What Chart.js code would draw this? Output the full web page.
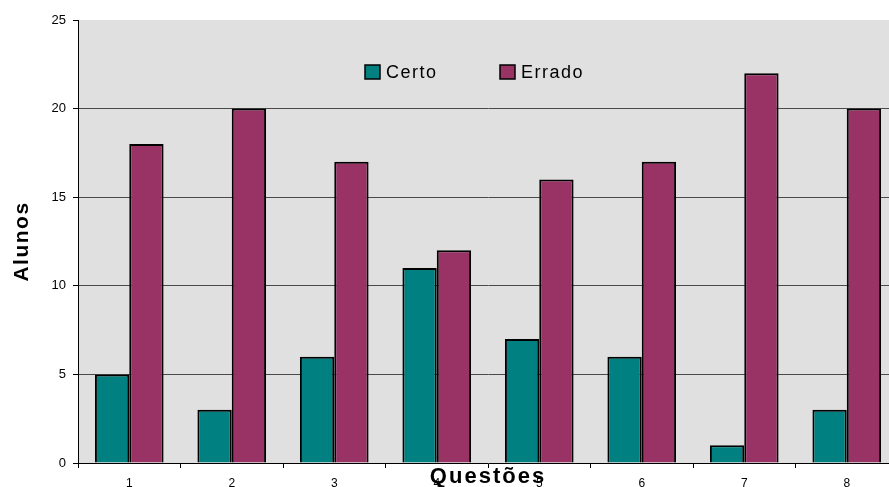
<!DOCTYPE html>
<html>
<head>
<meta charset="utf-8">
<script src="https://cdn.jsdelivr.net/npm/chart.js@4/dist/chart.umd.min.js"></script>
<style>
  html, body { margin: 0; padding: 0; background: #fff; overflow: hidden; width: 889px; height: 487px; }
  canvas { display: block; }
</style>
</head>
<body>
<canvas id="c" width="900" height="487"></canvas>
<script>
const categories = ['1', '2', '3', '4', '5', '6', '7', '8'];
const certo = [5, 3, 6, 11, 7, 6, 1, 3];
const errado = [18, 20, 17, 12, 16, 17, 22, 20];
const seriesNames = ['Certo', 'Errado'];
const yTitle = 'Alunos';
const xTitle = 'Questões';

const FONT = '"Liberation Sans", Arial, sans-serif';

const decor = {
  id: 'decor',
  beforeDraw(chart) {
    const { ctx, chartArea: a } = chart;
    ctx.save();
    ctx.fillStyle = '#E0E0E0';
    ctx.fillRect(a.left, a.top, a.right - a.left, a.bottom - a.top);
    ctx.restore();
  },
  afterDraw(chart) {
    const { ctx, chartArea: a } = chart;
    ctx.save();
    // legend
    const items = [
      { x: 365, label: chart.data.datasets[0].label, color: chart.data.datasets[0].backgroundColor },
      { x: 500, label: chart.data.datasets[1].label, color: chart.data.datasets[1].backgroundColor }
    ];
    ctx.font = '18px ' + FONT;
    ctx.letterSpacing = '1.5px';
    ctx.textBaseline = 'middle';
    ctx.textAlign = 'left';
    items.forEach(it => {
      ctx.fillStyle = it.color;
      ctx.fillRect(it.x, 65, 15, 14);
      ctx.strokeStyle = '#000';
      ctx.lineWidth = 1.5;
      ctx.strokeRect(it.x, 65, 15, 14);
      ctx.fillStyle = '#000';
      ctx.fillText(it.label, it.x + 21, 73);
    });
    // x title
    ctx.font = 'bold 22px ' + FONT;
    ctx.letterSpacing = '2px';
    ctx.textAlign = 'center';
    ctx.textBaseline = 'alphabetic';
    ctx.fillStyle = '#000';
    ctx.fillText(xTitle, (a.left + a.right) / 2, 483);
    // y title
    ctx.translate(28, (a.top + a.bottom) / 2);
    ctx.rotate(-Math.PI / 2);
    ctx.font = 'bold 21px ' + FONT;
    ctx.letterSpacing = '1.5px';
    ctx.textAlign = 'center';
    ctx.fillText(yTitle, 0, 0);
    ctx.restore();
  }
};

new Chart(document.getElementById('c'), {
  type: 'bar',
  data: {
    labels: categories,
    datasets: [
      { label: seriesNames[0], data: certo, backgroundColor: '#008080', borderColor: '#000', borderWidth: 2 },
      { label: seriesNames[1], data: errado, backgroundColor: '#993366', borderColor: '#000', borderWidth: 2 }
    ]
  },
  options: {
    responsive: false,
    animation: false,
    layout: { padding: { top: 20, right: 2, left: 0, bottom: 0 } },
    plugins: { legend: { display: false }, tooltip: { enabled: false } },
    datasets: { bar: { categoryPercentage: 0.67, barPercentage: 1.0 } },
    scales: {
      x: {
        afterFit(s) { s.height = 24; },
        grid: { display: true, drawOnChartArea: false, offset: true, tickLength: 5, color: '#000', tickColor: '#000' },
        border: { display: true, color: '#000', width: 1 },
        ticks: { font: { family: FONT, size: 12 }, color: '#000', padding: 8 }
      },
      y: {
        min: 0, max: 25,
        afterFit(s) { s.width = 78; },
        grid: {
          tickLength: 5,
          color: ctx => (ctx.tick && (ctx.tick.value === 25 || ctx.tick.value === 0)) ? 'rgba(0,0,0,0)' : '#4a4a4a',
          tickColor: '#000'
        },
        border: { display: true, color: '#000', width: 1 },
        ticks: { stepSize: 5, font: { family: FONT, size: 13 }, color: '#000', padding: 7 }
      }
    }
  },
  plugins: [decor]
});
</script>
</body>
</html>
